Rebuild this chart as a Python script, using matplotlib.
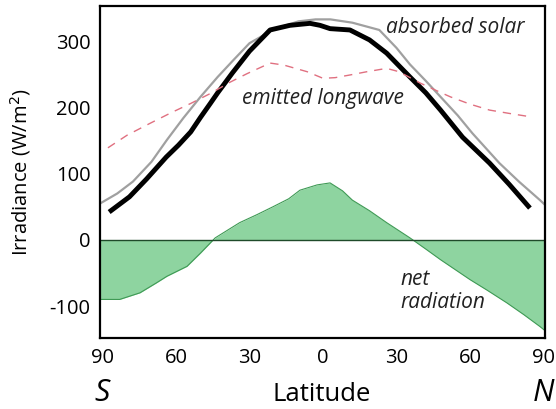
import numpy as np
import matplotlib
matplotlib.use("Agg")
from matplotlib import pyplot as plt

plt.rcParams['font.family'] = ['Open Sans', 'DejaVu Sans']
plt.rcParams['axes.unicode_minus'] = False

# latitude (negative = south), values in W/m2
lat_solar = [-87.3, -79, -72, -64, -59, -54, -50, -46, -43, -37, -30, -21.6, -13.5, -5.3, -1.2, 2.9, 11, 19, 26, 35.5, 42, 48, 57, 68, 76, 84.5]
solar = [42, 65, 92, 125, 143, 163, 185, 206, 222, 252, 285, 317, 324, 327, 324, 319, 317, 302, 282, 246, 222, 196, 155, 116, 84, 48]

lat_gray = [-90.5, -84, -77.6, -70, -63.7, -57, -50, -43, -36.7, -30, -20, -10, -3, 3, 12, 23, 30, 35.5, 42, 48, 55, 61, 72, 80, 88.6, 90.6]
gray = [56, 70, 88, 118, 151, 184, 216, 246, 271, 297, 318, 330, 333, 333, 328, 317, 290, 265, 240, 216, 188, 161, 116, 88, 60, 53]

lat_lw = [-87.8, -80, -70.6, -62, -54, -46, -38, -31, -21.6, -16, -6.5, 0, 5, 11, 18, 26, 31, 39.6, 46, 52, 60, 68, 76, 84.5]
longwave = [139, 158, 176, 192, 206, 221, 238, 251, 267, 264, 254, 244, 245, 249, 254, 259, 254, 237, 226, 216, 205, 196, 191, 186]

lat_net = [-91, -83, -74.7, -68, -63.7, -55.5, -50, -44, -34, -27, -20.4, -14, -9.4, -2.4, 2.9, 8, 12, 19, 26, 35.5, 42, 48, 54, 60, 67, 75, 82, 88.6, 90.6]
net = [-90, -90, -80, -65, -55, -40, -20, 3, 26, 38, 50, 62, 75, 83, 86, 74, 60, 44, 26, 3, -14, -30, -45, -60, -76, -95, -113, -131, -137]

fig = plt.figure(figsize=(5.56, 4.09), dpi=100)
ax = fig.add_axes([0.18, 0.174, 0.80, 0.811])

ax.fill_between(lat_net, net, 0, color='#82d096', alpha=0.9, linewidth=0)
ax.plot(lat_net, net, color='#3f9a55', linewidth=0.8)
ax.axhline(0, color='#1f4a2a', linewidth=1.0)

ax.plot(lat_gray, gray, color='#a0a0a0', linewidth=1.6)
ax.plot(lat_solar, solar, color='black', linewidth=3.5, solid_capstyle='butt')
ax.plot(lat_lw, longwave, color='#e07080', linewidth=1.0, dashes=(6, 5))

ax.text(54, 321, "absorbed solar", style='italic', fontsize=15, color='#222222', ha='center', va='center')
ax.text(0, 214, "emitted longwave", style='italic', fontsize=15, color='#222222', ha='center', va='center')
ax.text(31.5, -77, "net\nradiation", style='italic', fontsize=15, color='#222222', ha='left', va='center', linespacing=1.1)

ax.set_xlim(-91, 90.6)
ax.set_ylim(-148, 353)
ax.set_xticks([-90, -60, -30, 0, 30, 60, 90])
ax.set_xticklabels(['90', '60', '30', '0', '30', '60', '90'])
ax.set_yticks([-100, 0, 100, 200, 300])
ax.tick_params(length=0, labelsize=14.5, pad=7)
for s in ax.spines.values():
    s.set_linewidth(1.6)

ax.set_ylabel("Irradiance (W/m$^2$)", fontsize=14.5)
ax.yaxis.set_label_coords(-0.15, 0.5)
fig.text(0.579, 0.036, "Latitude", fontsize=18.5, ha='center', va='center')
fig.text(0.183, 0.04, "S", fontsize=22, style='italic', ha='center', va='center')
fig.text(0.977, 0.04, "N", fontsize=22, style='italic', ha='center', va='center')

fig.savefig("out.png", dpi=100)
